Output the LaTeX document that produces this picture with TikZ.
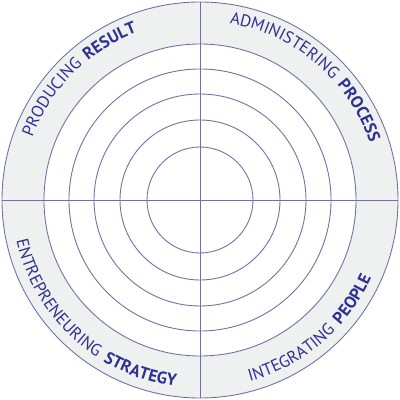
\documentclass[tikz,border=0pt]{standalone}
\usepackage{fontspec}
\setsansfont{PT Sans}
\usetikzlibrary{decorations.text}
\definecolor{ringline}{RGB}{112,112,165}
\definecolor{ringtext}{RGB}{46,49,146}
\definecolor{ringfill}{RGB}{239,240,240}
\newcommand{\lblreg}{\sffamily\fontsize{9.6}{11}\selectfont\color{ringtext}}
\newcommand{\lblbold}{\sffamily\bfseries\fontsize{9.6}{11}\selectfont\color{ringtext}}

\begin{document}
\begin{tikzpicture}[
	% line and fill styles
	ring/.style={
		draw=ringline,
		line width=0.5pt
	},
	band/.style={
		fill=ringfill
	},
	% curved labels
	arclabel/.style={
		decorate,
		decoration={
			text along path,
			text align=center,
			text={#1}
		}
	}
	]
	
	\useasboundingbox (-4,-4) rectangle (4,4);
	
	% Outer band
	\fill[band] (0,0) circle (3.96);
	\fill[white] (0,0) circle (3.12);
	
	% Circles
	\foreach \r in {3.96,3.12,2.62,2.12,1.60,1.06}
		\draw[ring] (0,0) circle (\r);
	
	% Axes
	\draw[ring] (-3.96,0) -- (3.96,0);
	\draw[ring] (0,-3.96) -- (0,3.96);
	
	% Labels, top half read clockwise
	\path[arclabel={|\lblreg|PRODUCING {\kern1.5pt}|\lblbold|RESULT}]
		(175:3.58) arc[start angle=175, end angle=95, radius=3.58];
	\path[arclabel={|\lblreg|ADMINISTERING {\kern1.5pt}|\lblbold|PROCESS}]
		(90:3.58) arc[start angle=90, end angle=9, radius=3.58];
	
	% Labels, bottom half read anticlockwise
	\path[arclabel={|\lblreg|ENTREPRENEURING {\kern1.5pt}|\lblbold|STRATEGY}]
		(187.5:3.76) arc[start angle=187.5, end angle=267.5, radius=3.76];
	\path[arclabel={|\lblreg|INTEGRATING {\kern1.5pt}|\lblbold|PEOPLE}]
		(270:3.76) arc[start angle=270, end angle=351, radius=3.76];
	
\end{tikzpicture}
\end{document}
